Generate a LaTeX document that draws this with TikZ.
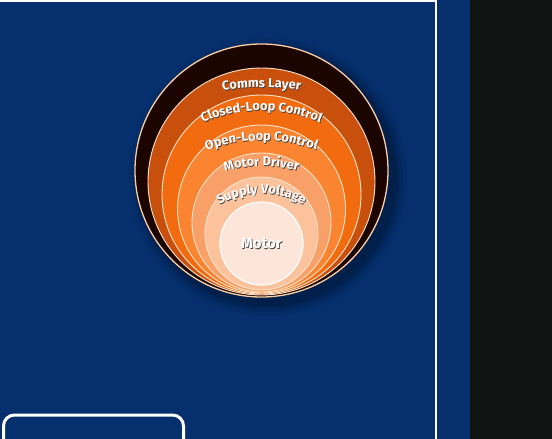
\documentclass[tikz,border=0pt]{standalone}
\usepackage{fontspec}
\setmainfont{Fira Sans}
\newfontfamily\lblfam{Fira Sans}
\usetikzlibrary{decorations.text}
\definecolor{bgblue}{HTML}{052F6D}
\definecolor{darkside}{HTML}{111312}
\definecolor{brownring}{HTML}{1C0400}
\definecolor{bandA}{HTML}{C8500C}
\definecolor{bandB}{HTML}{F26B0F}
\definecolor{bandC}{HTML}{FB8430}
\definecolor{bandD}{HTML}{F9A068}
\definecolor{bandE}{HTML}{FBC29C}
\definecolor{bandF}{HTML}{FDE6D9}
\definecolor{rimline}{HTML}{FBE3CC}
\newcommand\lblfont{\lblfam\fontsize{12.8}{13}\selectfont\bfseries}
\newcommand\arclabel[4]{%
  \path[decorate,decoration={text along path,text={|\lblfont|#1},text align=center,text color=black!75}]
    (262.2,-#2-#3-0.8) ++(90+#4:#3) arc (90+#4:90-#4:#3);
  \path[decorate,decoration={text along path,text={|\lblfont|#1},text align=center,text color=white}]
    (261.5,-#2-#3) ++(90+#4:#3) arc (90+#4:90-#4:#3);
}
\tikzset{
  layer/.style={circle,inner sep=0pt,draw=rimline,line width=0.9pt},
}
\begin{document}
\begin{tikzpicture}[x=1pt,y=1pt]
\useasboundingbox (0,0) rectangle (552,-439);
% backgrounds
\fill[bgblue] (0,0) rectangle (470,-439);
\fill[darkside] (470,0) rectangle (552,-439);
% frame line
\draw[white,line width=2.2pt] (0,-1.2) -- (436,-1.2) -- (436,-439);
% bottom-left rounded box
\draw[white,line width=3pt,rounded corners=11pt] (3.5,-450) -- (3.5,-415) -- (183.5,-415) -- (183.5,-450);
% soft shadow
\foreach \r/\o in {139/0.05,135/0.07,132/0.09,129.5/0.12}
  \fill[black,opacity=\o] (268,-177) circle (\r);
% nested circles
\node[layer,fill=brownring,draw=rimline!80!orange,line width=1.3pt,minimum size=253pt] (c1) at (261.5,-170.5) {};
\node[layer,fill=bandA,minimum size=227pt] (c2) at (261.5,-181.5) {};
\node[layer,fill=bandB,minimum size=199pt] (c3) at (261.5,-194.5) {};
\node[layer,fill=bandC,minimum size=168pt] (c4) at (261.5,-209) {};
\node[layer,fill=bandD,minimum size=139pt] (c5) at (261.5,-222.5) {};
\node[layer,fill=bandE,minimum size=113pt] (c6) at (261.5,-233.5) {};
\node[layer,fill=bandF,draw=white,line width=1.2pt,minimum size=83pt] (c7) at (261.5,-243.5) {};
% labels
\arclabel{Comms Layer}{87.5}{268}{25}
\arclabel{Closed-Loop Control}{110.5}{146}{55}
\arclabel{Open-Loop Control}{140.5}{160}{50}
\arclabel{Motor Driver}{166}{132}{45}
\arclabel{Supply Voltage}{193.5}{82}{75}
\node[font=\lblfam\fontsize{15}{15}\selectfont\bfseries,text=black!75] (motorsh) at (262.2,-244.2) {Motor};
\node[font=\lblfam\fontsize{15}{15}\selectfont\bfseries,text=white] (motor) at (261.5,-243.5) {Motor};
\end{tikzpicture}
\end{document}
